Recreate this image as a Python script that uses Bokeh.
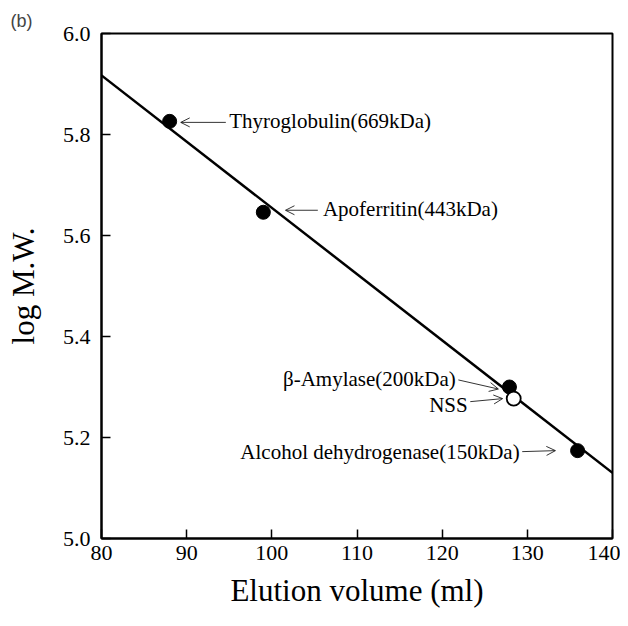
from bokeh.plotting import figure
from bokeh.models import Arrow, OpenHead, Label, FixedTicker, Range1d, PrintfTickFormatter
from bokeh.embed import file_html
from bokeh.resources import INLINE

# ---- data ----
std_names = ["Thyroglobulin(669kDa)", "Apoferritin(443kDa)", "β-Amylase(200kDa)", "Alcohol dehydrogenase(150kDa)"]
std_volume = [88.0, 99.0, 127.9, 135.9]
std_logmw = [5.826, 5.646, 5.300, 5.174]

nss_volume = [128.4]
nss_logmw = [5.277]

fit_volume = [80.0, 140.0]
fit_logmw = [5.917, 5.130]

x_ticks = [80, 90, 100, 110, 120, 130, 140]
y_ticks = [5.0, 5.2, 5.4, 5.6, 5.8, 6.0]

# annotation anchors (label text position, arrow tail, arrow head) in data units
ann_text = ["Thyroglobulin(669kDa)", "Apoferritin(443kDa)", "β-Amylase(200kDa)", "NSS", "Alcohol dehydrogenase(150kDa)"]
ann_tx = [95.0, 106.0, 121.6, 123.0, 129.1]
ann_ty = [5.826, 5.652, 5.316, 5.265, 5.172]
ann_align = ["left", "left", "right", "right", "right"]
arr_x0 = [94.6, 105.4, 121.9, 123.3, 129.4]
arr_y0 = [5.824, 5.650, 5.314, 5.271, 5.172]
arr_x1 = [89.3, 101.6, 126.6, 127.1, 133.3]
arr_y1 = [5.824, 5.650, 5.296, 5.277, 5.174]

SERIF = "Liberation Serif"

p = figure(width=620, height=610, output_backend="svg", toolbar_location=None,
           x_range=Range1d(80, 140), y_range=Range1d(5.0, 6.0),
           min_border_left=101, min_border_right=8, min_border_top=33, min_border_bottom=71,
           title="(b)")
p.title.text_font = "Liberation Sans"
p.title.text_font_size = "18px"
p.title.text_font_style = "normal"
p.title.align = "left"
p.title.offset = -91
p.title.standoff = 5
p.background_fill_color = "white"
p.border_fill_color = "white"
p.outline_line_color = "black"
p.outline_line_width = 2
p.grid.visible = False

p.xaxis.ticker = FixedTicker(ticks=x_ticks)
p.yaxis.ticker = FixedTicker(ticks=y_ticks)
p.yaxis.formatter = PrintfTickFormatter(format="%.1f")
p.xaxis.formatter = PrintfTickFormatter(format="%d")

for axes in (p.xaxis, p.yaxis):
    axes.axis_line_color = "black"
    axes.axis_line_width = 2
    axes.major_tick_in = 9
    axes.major_tick_out = 0
    axes.major_tick_line_width = 1.5
    axes.minor_tick_line_color = None
    axes.major_label_text_font = SERIF
    axes.major_label_text_font_size = "22px"
    axes.major_label_text_color = "black"
    axes.axis_label_text_font = SERIF
    axes.axis_label_text_font_style = "normal"
    axes.axis_label_text_color = "black"

p.xaxis.axis_label = "Elution volume (ml)"
p.yaxis.axis_label = "log M.W."
p.xaxis.axis_label_text_font_size = "31px"
p.yaxis.axis_label_text_font_size = "31px"
p.xaxis.major_label_standoff = 7
p.yaxis.major_label_standoff = 11
p.xaxis.axis_label_standoff = 10
p.yaxis.axis_label_standoff = 19

# fit line
p.line(fit_volume, fit_logmw, line_color="black", line_width=2.5)

# standards
p.scatter(std_volume, std_logmw, size=14, fill_color="black", line_color="black")
# NSS open circle
p.scatter(nss_volume, nss_logmw, size=14, fill_color="white", line_color="black", line_width=1.8)

# annotations
for t, tx, ty, al, x0, y0, x1, y1 in zip(ann_text, ann_tx, ann_ty, ann_align, arr_x0, arr_y0, arr_x1, arr_y1):
    p.add_layout(Label(x=tx, y=ty, text=t, text_font=SERIF, text_font_size="21px",
                       text_align=al, text_baseline="middle", text_color="black"))
    p.add_layout(Arrow(x_start=x0, y_start=y0, x_end=x1, y_end=y1, line_width=0.8, line_color="black",
                       end=OpenHead(size=9, line_width=0.8, line_color="black")))

open("out.html", "w").write(file_html(p, INLINE))
